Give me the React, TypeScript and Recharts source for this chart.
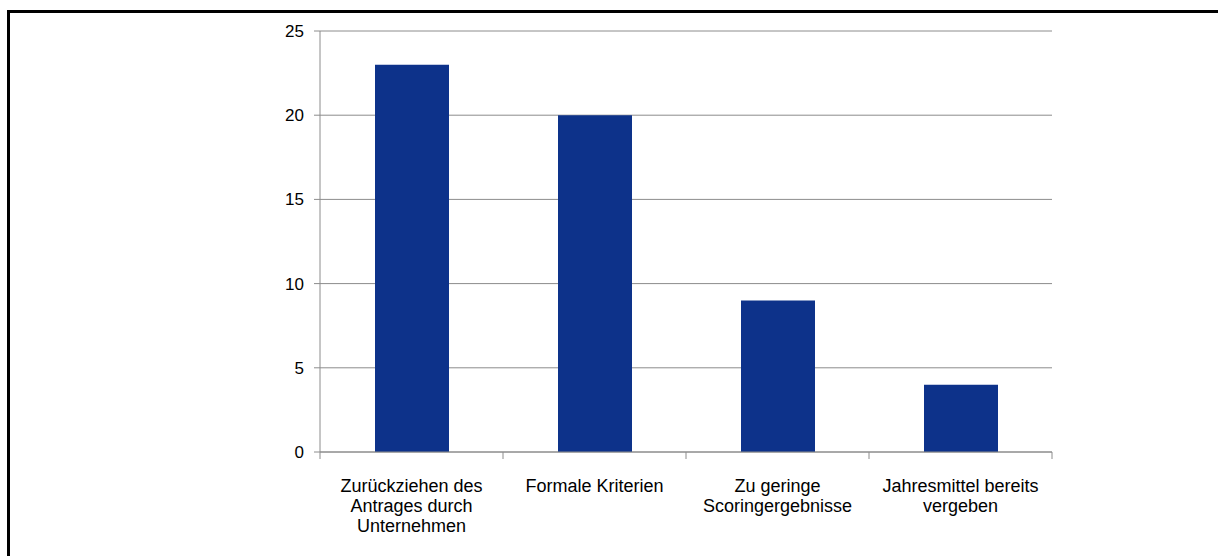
import React from "react";
import {
  BarChart,
  Bar,
  XAxis,
  YAxis,
  CartesianGrid,
} from "recharts";

// categories (line breaks as in the original)
const categories = [
  "Zurückziehen des\nAntrages durch\nUnternehmen",
  "Formale Kriterien",
  "Zu geringe\nScoringergebnisse",
  "Jahresmittel bereits\nvergeben",
];
const counts = [23, 20, 9, 4];
const yTicks = [0, 5, 10, 15, 20, 25];

const BAR_COLOR = "#0d328a";
const GRID_COLOR = "#8c8c8c";
const FONT = "'Liberation Sans', Arial, sans-serif";

const data = categories.map((name, i) => ({ name, value: counts[i] }));

// category label plus the boundary tick marks between categories
function CategoryTick(props: any) {
  const { x, y, payload, index, visibleTicksCount } = props;
  const half = payload?.offset ?? 0;
  const axisY = y - 7;
  const lines = String(payload.value).split("\n");
  const isLast = index === visibleTicksCount - 1;
  return (
    <g>
      <line x1={x - half} x2={x - half} y1={axisY} y2={axisY + 7} stroke={GRID_COLOR} />
      {isLast && (
        <line x1={x + half} x2={x + half} y1={axisY} y2={axisY + 7} stroke={GRID_COLOR} />
      )}
      <text
        x={x}
        y={axisY + 40}
        textAnchor="middle"
        fill="#000"
        fontSize={18}
        fontFamily={FONT}
      >
        {lines.map((l, i) => (
          <tspan key={i} x={x} dy={i === 0 ? 0 : 20}>
            {l}
          </tspan>
        ))}
      </text>
    </g>
  );
}

export default function App() {
  return (
    <div
      style={{
        position: "absolute",
        left: 0,
        top: 0,
        width: 1218,
        height: 556,
        overflow: "hidden",
        background: "#fff",
      }}
    >
      <div
        style={{
          position: "absolute",
          left: 7,
          top: 10,
          width: 1300,
          height: 700,
          border: "3px solid #000",
        }}
      />
      <div style={{ position: "absolute", left: 0, top: 0 }}>
        <BarChart
          width={1218}
          height={556}
          data={data}
          margin={{ top: 31, right: 166, left: 0, bottom: 14 }}
        >
          <CartesianGrid vertical={false} stroke={GRID_COLOR} />
          <XAxis
            dataKey="name"
            interval={0}
            height={90}
            tickSize={7}
            tickMargin={0}
            tickLine={false}
            axisLine={{ stroke: GRID_COLOR }}
            tick={<CategoryTick />}
          />
          <YAxis
            width={320}
            domain={[0, 25]}
            ticks={yTicks}
            interval={0}
            tickSize={6}
            tickMargin={10}
            axisLine={{ stroke: GRID_COLOR }}
            tickLine={{ stroke: GRID_COLOR }}
            tick={{ fill: "#000", fontSize: 17, fontFamily: FONT }}
          />
          <Bar
            dataKey="value"
            fill={BAR_COLOR}
            barSize={74}
            isAnimationActive={false}
          />
        </BarChart>
      </div>
    </div>
  );
}
